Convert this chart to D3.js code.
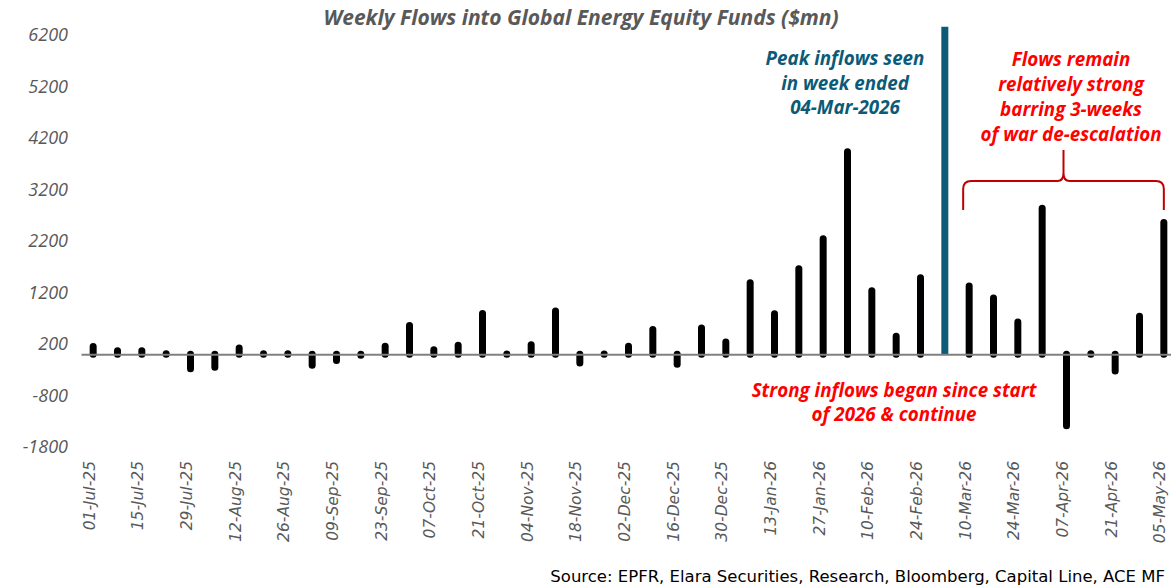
<!DOCTYPE html>
<html>
<head>
  <meta charset="UTF-8" />
  <title>Weekly Flows into Global Energy Equity Funds</title>
  <script src="https://d3js.org/d3.v7.min.js"></script>
  <style>
    body { margin: 0; background: #fff; }
    svg { display: block; }
  </style>
</head>
<body>
  <div id="chart"></div>
  <script>
    // weeks (every bar) ($mn)
    const weeks = [
      "01-Jul-25", "08-Jul-25", "15-Jul-25", "22-Jul-25", "29-Jul-25", "05-Aug-25", "12-Aug-25", "19-Aug-25",
      "26-Aug-25", "02-Sep-25", "09-Sep-25", "16-Sep-25", "23-Sep-25", "30-Sep-25", "07-Oct-25", "14-Oct-25",
      "21-Oct-25", "28-Oct-25", "04-Nov-25", "11-Nov-25", "18-Nov-25", "25-Nov-25", "02-Dec-25", "09-Dec-25",
      "16-Dec-25", "23-Dec-25", "30-Dec-25", "06-Jan-26", "13-Jan-26", "20-Jan-26", "27-Jan-26", "03-Feb-26",
      "10-Feb-26", "17-Feb-26", "24-Feb-26", "03-Mar-26", "10-Mar-26", "17-Mar-26", "24-Mar-26", "31-Mar-26",
      "07-Apr-26", "14-Apr-26", "21-Apr-26", "28-Apr-26", "05-May-26"
    ];
    const flows = [
      150, 70, 70, 10, -280, -250, 120, 10,
      10, -215, -120, -20, 155, 560, 90, 175,
      790, 5, 185, 840, -170, 5, 155, 480,
      -195, 510, 240, 1390, 785, 1660, 2245, 3935,
      1235, 350, 1485, 6360, 1325, 1095, 625, 2835,
      -1385, 10, -325, 740, 2560
    ];
    const peakWeek = "03-Mar-26";
    const tickLabels = [
      "01-Jul-25", "15-Jul-25", "29-Jul-25", "12-Aug-25", "26-Aug-25", "09-Sep-25", "23-Sep-25", "07-Oct-25",
      "21-Oct-25", "04-Nov-25", "18-Nov-25", "02-Dec-25", "16-Dec-25", "30-Dec-25", "13-Jan-26", "27-Jan-26",
      "10-Feb-26", "24-Feb-26", "10-Mar-26", "24-Mar-26", "07-Apr-26", "21-Apr-26", "05-May-26"
    ];
    const yTicks = [-1800, -800, 200, 1200, 2200, 3200, 4200, 5200, 6200];

    const title = "Weekly Flows into Global Energy Equity Funds ($mn)";
    const peakNote = ["Peak inflows seen", "in week ended", "04-Mar-2026"];
    const rightNote = ["Flows remain", "relatively strong", "barring 3-weeks", "of war de-escalation"];
    const bottomNote = ["Strong inflows began since start", "of 2026 & continue"];
    const source = "Source: EPFR, Elara Securities, Research, Bloomberg, Capital Line, ACE MF";

    const data = weeks.map((w, i) => ({ week: w, value: flows[i] }));

    const width = 1171, height = 587;
    const svg = d3.select("#chart").append("svg")
      .attr("width", width)
      .attr("height", height);

    const x = d3.scaleBand()
      .domain(weeks)
      .range([81, 1176])
      .padding(0);
    const y = d3.scaleLinear()
      .domain([-1800, 6200])
      .range([447, 35]);
    const cx = d => x(d) + x.bandwidth() / 2;

    // y labels
    svg.append("g")
      .attr("transform", "translate(68,0)")
      .attr("font-family", "'Open Sans', sans-serif")
      .attr("font-style", "italic")
      .call(d3.axisLeft(y).tickValues(yTicks).tickSize(0).tickPadding(0).tickFormat(d => String(d)))
      .call(g => g.select(".domain").remove())
      .selectAll("text")
      .attr("fill", "#595959")
      .attr("font-style", "italic")
      .style("font-family", "'Open Sans', sans-serif")
      .style("font-style", "italic")
      .style("font-size", "18px");

    // bars as thick round-capped lines
    svg.append("g")
      .selectAll("line")
      .data(data)
      .enter()
      .append("line")
      .attr("x1", d => cx(d.week))
      .attr("x2", d => cx(d.week))
      .attr("y1", y(0))
      .attr("y2", d => y(d.value))
      .attr("stroke", d => d.week === peakWeek ? "#0b5a78" : "#000")
      .attr("stroke-width", 7)
      .attr("stroke-linecap", d => d.week === peakWeek ? "butt" : "round");

    // zero line
    svg.append("g")
      .attr("transform", "translate(0," + y(0) + ")")
      .call(d3.axisBottom(x).tickSize(0).tickSizeOuter(0).tickFormat(""))
      .call(g => g.select(".domain").attr("stroke", "#808080").attr("stroke-width", 2));

    // x labels
    svg.append("g")
      .selectAll("text")
      .data(tickLabels)
      .enter()
      .append("text")
      .attr("transform", d => "translate(" + (cx(d) - 4) + ",461) rotate(-90)")
      .attr("dy", "0.35em")
      .attr("text-anchor", "end")
      .attr("fill", "#595959")
      .style("font-family", "'DejaVu Sans', sans-serif")
      .style("font-style", "italic")
      .style("font-size", "15.5px")
      .text(d => d);

    // title
    svg.append("text")
      .attr("x", 581)
      .attr("y", 25)
      .attr("text-anchor", "middle")
      .attr("fill", "#595959")
      .style("font-family", "'Open Sans', sans-serif")
      .style("font-style", "italic")
      .style("font-weight", "bold")
      .style("font-size", "21px")
      .text(title);

    function note(lines, xPos, yPos, lineH, color) {
      svg.append("g")
        .selectAll("text")
        .data(lines)
        .enter()
        .append("text")
        .attr("x", xPos)
        .attr("y", (d, i) => yPos + i * lineH)
        .attr("text-anchor", "middle")
        .attr("fill", color)
        .style("font-family", "'Open Sans', sans-serif")
        .style("font-style", "italic")
        .style("font-weight", "bold")
        .style("font-size", "18.8px")
        .text(d => d);
    }
    note(peakNote, 845, 65, 24.5, "#0b5a78");
    note(rightNote, 1071, 66, 25, "#ff0000");
    note(bottomNote, 894, 397, 24, "#ff0000");

    // brace over the post-peak weeks
    const bx0 = cx("10-Mar-26") - 6, bx1 = cx("05-May-26"), bm = (bx0 + bx1) / 2;
    const by = 181, r = 8;
    svg.append("path")
      .attr("d",
        "M" + bx0 + ",210 L" + bx0 + "," + (by + r) +
        " Q" + bx0 + "," + by + " " + (bx0 + r) + "," + by +
        " L" + (bm - 6) + "," + by +
        " Q" + bm + "," + by + " " + bm + "," + (by - 8) +
        " L" + bm + ",150" +
        " M" + bm + "," + (by - 8) +
        " Q" + bm + "," + by + " " + (bm + 6) + "," + by +
        " L" + (bx1 - r) + "," + by +
        " Q" + bx1 + "," + by + " " + bx1 + "," + (by + r) +
        " L" + bx1 + ",210")
      .attr("fill", "none")
      .attr("stroke", "#c00000")
      .attr("stroke-width", 2);

    // source
    svg.append("text")
      .attr("x", 1165)
      .attr("y", 582)
      .attr("text-anchor", "end")
      .attr("fill", "#000")
      .style("font-family", "'DejaVu Sans', sans-serif")
      .style("font-size", "16.5px")
      .text(source);
  </script>
</body>
</html>
